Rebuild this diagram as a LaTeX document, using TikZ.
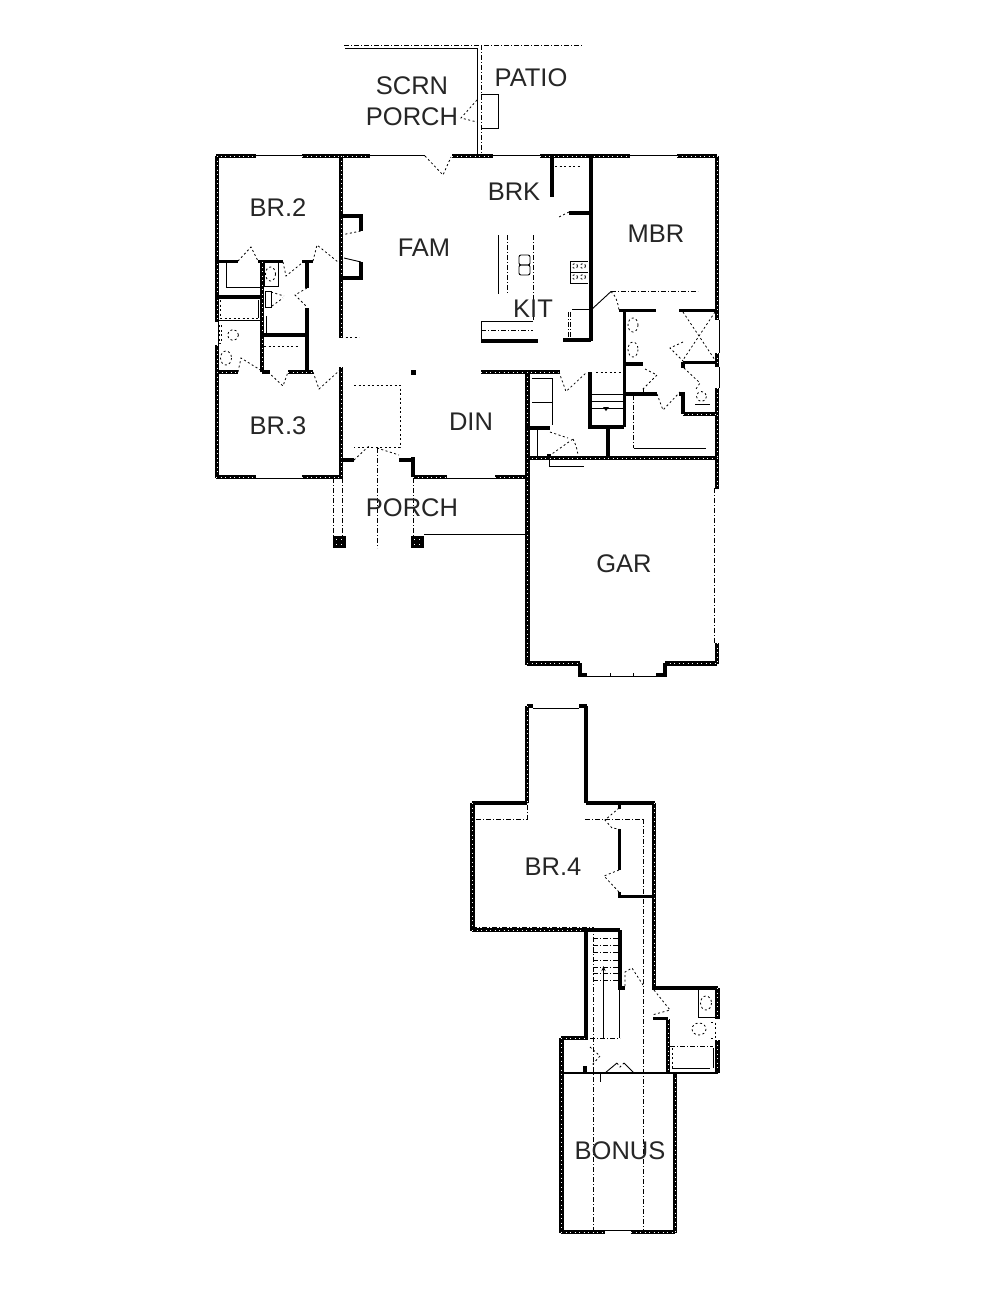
\documentclass[tikz,border=0pt]{standalone}
\usepackage{fontspec}
\usetikzlibrary{arrows.meta}
\setmainfont{Liberation Sans}
\tikzset{
 hw/.style={line width=4.6pt,draw=black,line cap=butt,postaction={draw=white,line width=0.8pt,dash pattern=on 1pt off 3.5pt}},
 sw/.style={line width=3.2pt,draw=black},
 tn/.style={line width=0.9pt,draw=black},
 dd/.style={line width=0.8pt,draw=black,dash pattern=on 5pt off 2pt on 1pt off 2pt},
 ds/.style={line width=0.8pt,draw=black,dash pattern=on 2pt off 2.5pt},
 lbl/.style={font=\fontsize{25.5}{26}\selectfont,inner sep=0pt,text=black!85,yshift=-0.8pt}
}
\begin{document}
\begin{tikzpicture}[x=1pt,y=-1pt]
\useasboundingbox (0,0) rectangle (1000,1294);
\fill[white] (0,0) rectangle (1000,1294);
% ---- rear porch
\draw[dd] (344,45)--(583,45);
\draw[tn] (345,48)--(477.5,48)--(477.5,156);
\draw[dd] (481,45)--(481,156);
\draw[tn] (481,94)--(498,94)--(498,128)--(481,128);
\draw[ds] (477,100)--(461,118)--(477,122);
% ---- main outer walls
\draw[hw] (216,156)--(256,156) (302,156)--(370,156) (452,156)--(493,156) (540,156)--(630,156) (677,156)--(717,156);
\draw[tn] (256,155)--(302,155) (370,155)--(425,155) (493,155)--(540,155) (630,155)--(677,155);
\draw[ds] (425,156)--(443,175)--(451,157);
\draw[hw] (217,156)--(217,322) (217,345)--(217,478);
\draw[tn] (218,322)--(218,345);
\draw[hw] (216,477)--(256,477) (302,477)--(342,477);
\draw[tn] (256,478)--(302,478);
\draw[hw] (341,156)--(341,338) (341,367)--(341,478);
\draw[ds] (341,337)--(359,337);
\draw[hw] (717,156)--(717,320) (717,353)--(717,367) (717,388)--(717,458);
\draw[tn] (719,320)--(719,353) (719,367)--(719,388);
% ---- family room closets
\draw[sw] (341,216)--(361,216)--(361,231);
\draw[ds] (341,235)--(361,231);
\draw[sw] (341,278)--(361,278)--(361,262);
\draw[tn] (344,258)--(361,262);
% ---- bedroom 2 / baths
\draw[sw] (217,261.5)--(238,261.5) (258,261.5)--(283,261.5) (302,261.5)--(313,261.5);
\draw[ds] (238,261)--(251,247)--(258,261);
\draw[ds] (313,261)--(317,245)--(338,262);
\draw[ds] (283,262)--(286,276)--(302,263);
\draw[tn] (226.5,262)--(226.5,287)--(262,287);
\draw[hw] (262,262)--(262,372);
\draw[sw] (217,297)--(262,297);
\draw[tn] (217,320.5)--(262,320.5) (258,300)--(258,318);
\draw[ds] (220,300)--(220,318)--(258,318);
\draw[tn] (264,262)--(264,286)--(278,286)--(278,262);
\draw[ds] (270.5,274) ellipse (5 and 7);
\draw[tn] (265,291) rectangle (271,307);
\draw[ds] (271,292)--(284,296);
\draw[ds] (272,306)--(283,298);
\draw[sw] (307,262)--(307,288) (307,308)--(307,372);
\draw[ds] (307,288)--(295,295)--(307,307);
\draw[tn] (266,316)--(266,333)--(305,333);
\draw[sw] (262,335)--(307,335);
\draw[ds] (264,346)--(298,346);
\draw[hw] (217,372)--(238,372);
\draw[sw] (262,372)--(270,372);
\draw[hw] (288,372)--(313,372);
\draw[ds] (238,372)--(241,358)--(262,371);
\draw[ds] (268,372)--(283,386)--(288,372);
\draw[ds] (313,372)--(319,389)--(340,370);
\draw[ds] (233,335) circle (5.5);
\draw[ds] (219,325) rectangle (221,343);
\draw[ds] (226,358) ellipse (5.5 and 7);
% ---- foyer, dining
\draw[sw] (341,460)--(354,460) (399,460)--(413,460);
\draw[sw] (413,457)--(413,477);
\draw[hw] (413,477)--(447,477) (495,477)--(527,477);
\draw[tn] (447,478)--(495,478);
\draw[ds] (354,385)--(400,385)--(400,447)--(354,447);
\draw[ds] (354,460)--(370,445) (377,448)--(399,455);
\draw[dd] (377,448)--(377,548);
\fill (411,369.5) rectangle (416,375);
% ---- front porch
\draw[dd] (333.5,478)--(333.5,536) (342,478)--(342,536);
\draw[dd] (413.5,478)--(413.5,536);
\draw[tn] (424,534)--(527,534);
\fill (333,536) rectangle (346,548);
\fill (411,536) rectangle (424,548);
\foreach \px in {336,341,414,419} {\fill[white] (\px,539) rectangle +(1,1); \fill[white] (\px,544) rectangle +(1,1);}
% ---- kitchen
\draw[tn] (481,341)--(481,321.5)--(533,321.5);
\draw[dd] (481,330)--(533,330);
\draw[sw] (481,341)--(538,341);
\draw[hw] (481,372)--(560,372);
\draw[hw] (527.5,372)--(527.5,458);
\draw[tn] (498.5,235)--(498.5,294);
\draw[dd] (507,235)--(507,294);
\draw[dd] (533,235)--(533,321);
\draw[tn,rounded corners=2pt] (519,255) rectangle (530,265);
\draw[tn,rounded corners=2pt] (519,265) rectangle (530,275);
\draw[sw] (552,156)--(552,197);
\draw[ds] (555,166)--(580,166);
\draw[sw] (591,156)--(591,341);
\draw[sw] (569,213)--(591,213);
\draw[ds] (569,212)--(557,218);
\draw[tn] (570,261.5)--(588,261.5) (570,261.5)--(570,283)--(588,283) (570,272)--(588,272);
\draw[ds] (575,266) circle (2.5) (583,266) circle (2.5) (575,277) circle (2.5) (583,277) circle (2.5);
\draw[tn] (572,309.5)--(591,309.5);
\draw[dd] (568,312)--(568,340) (570.5,312)--(570.5,340);
\draw[sw] (563,340)--(591,340);
% ---- master
\draw[tn] (591,310)--(611,291.5);
\draw[ds] (611,291.5)..controls (616,296) and (618,303)..(619,310);
\draw[dd] (611,291.5)--(698,291.5);
\draw[sw] (619,310.5)--(656,310.5) (679,310.5)--(717,310.5);
\draw[sw] (624.5,310)--(624.5,427);
\draw[ds] (633,325) ellipse (5 and 7) (633,349.5) ellipse (5 and 7.5);
\draw[ds] (683,312)--(715,360) (715,312)--(683,360);
\draw[sw] (683,362.5)--(717,362.5);
\draw[sw] (683,362)--(683,368);
\draw[ds] (683,342)--(670,348)--(683,361);
\draw[sw] (624,364)--(643,364);
\draw[ds] (645,369)--(657,375)--(642,390);
\draw[sw] (624,394)--(657,394) (679,394)--(683,394);
\draw[tn] (643,389)--(643,394);
\draw[ds] (657,394)--(663,410)--(680,392);
\draw[sw] (683,392)--(683,414);
\draw[hw] (683,414)--(717,414);
\draw[ds] (684,368)--(700,383)--(696,389);
\draw[ds] (701.5,396.5) circle (5);
\draw[tn] (695,404)--(710,404);
\draw[dd] (633.5,395)--(633.5,448);
\draw[tn] (633.5,448)--(706,448);
% ---- stair & laundry
\draw[sw] (590,372)--(590,427)--(624,427);
\draw[sw] (608,427)--(608,457);
\draw[tn] (590,394.5)--(624,394.5) (590,401)--(624,401) (590,408)--(624,408);
\draw[ds] (596,372)--(622,372);
\fill (603,407)--(609,407)--(606,411)--cycle;
\draw[ds] (559,372)--(566,391.5)--(587,372);
\draw[tn] (532,378)--(552,378)--(552,425) (532,402)--(552,402);
\draw[sw] (527,428)--(550,428);
\draw[tn] (537.5,430)--(537.5,457);
\draw[ds] (549,456)--(573,439) (550,432)--(568,438);
\draw[ds] (573,439)..controls (576,445) and (578,451)..(578,458);
\fill (547,454) rectangle (551,458);
\draw[tn] (549,458)--(549,466.5)--(584,466.5);
% ---- garage
\draw[hw] (527,458)--(717,458);
\draw[hw] (527.5,458)--(527.5,665);
\draw[hw] (717,458)--(717,489) (717,643)--(717,664);
\draw[dd] (714,488)--(714,643);
\draw[hw] (527,663.5)--(580,663.5) (665,663.5)--(717,663.5);
\draw[sw] (580,663)--(580,675)--(587,675) (656,675)--(665,675)--(665,663);
\draw[tn] (587,676)--(656,676) (610,673)--(610,676) (633,673)--(633,676);
% ---- upper floor
\draw[sw] (527,706)--(533,706) (579,706)--(587,706);
\draw[tn] (533,708)--(579,708);
\draw[hw] (527,706)--(527,803);
\draw[sw] (586,706)--(586,803);
\draw[sw] (472,803)--(527,803) (586,803)--(655,803);
\draw[hw] (472.5,803)--(472.5,931);
\draw[hw] (472,930)--(586,930);
\draw[sw] (586,930)--(620,930);
\draw[sw] (586,930)--(586,1040);
\draw[sw] (620,930)--(620,988)--(625,988);
\draw[hw] (654,803)--(654,988);
\draw[sw] (652,988)--(718,988);
\draw[hw] (717.5,988)--(717.5,1019) (717.5,1040)--(717.5,1073);
\draw[hw] (561.5,1038)--(561.5,1233) (675,1073)--(675,1233);
\draw[hw] (561,1038)--(586,1038);
\draw[sw] (585,1066)--(585,1073);
\draw[line width=1.8pt] (561,1073)--(718,1073);
\draw[hw] (561,1232)--(605,1232) (631,1232)--(675,1232);
\draw[tn] (605,1230.5)--(631,1230.5);
\draw[hw] (668,1019)--(668,1073);
\draw[sw] (653,1018.5)--(668,1018.5);
\draw[dd] (476,819)--(527,819)--(527,803);
\draw[dd] (585,819)--(643,819);
\draw[dd] (643,819)--(643,1232);
\draw[dd] (593,927)--(593,1232);
\draw[dd] (472,927)--(593,927);
\draw[sw] (619.5,805)--(619.5,809) (619.5,829)--(619.5,870) (619.5,892)--(619.5,896.5)--(654,896.5);
\draw[ds] (619,808)--(605,820)--(612,828)--(619,829);
\draw[ds] (619,870)--(604,876)--(619,892);
\foreach \ty in {938,945,952,960,967,973,980} {\draw[dd] (593,\ty)--(619,\ty);}
\draw[tn,-{Stealth[length=5pt,width=4pt]}] (603.5,1038)--(603.5,966);
\draw[tn] (619.5,988)--(619.5,1038);
\draw[dd] (590,1038)--(620,1038);
\draw[ds] (625,986)--(625,972)--(632,968)--(643,985);
\draw[ds] (654,990)--(670,1010)--(652,1015);
\draw[tn] (698,988)--(698,1017)--(717,1017);
\draw[ds] (706,1003) ellipse (5.5 and 7);
\draw[ds] (699,1029) ellipse (7 and 6);
\draw[ds] (711,1022)--(715,1022)--(715,1038)--(711,1038);
\draw[dd] (670,1046)--(713,1046);
\draw[ds] (672,1048)--(672,1068);
\draw[tn] (672,1068)--(710,1068) (713,1048)--(713,1068);
\draw[ds] (590,1047)--(600,1056)--(592,1065);
\draw[tn] (605,1073)--(617,1063);
\draw[ds] (617,1063)--(620,1067)--(624,1063);
\draw[tn] (624,1063)--(634,1073);
\draw[tn] (600,1073)--(600,1082);
% ---- labels
\node[lbl] (scrn) at (412,85) {SCRN};
\node[lbl] (sporch) at (412,116) {PORCH};
\node[lbl] (patio) at (531,77) {PATIO};
\node[lbl] (br2) at (278,207) {BR.2};
\node[lbl] (fam) at (424,247) {FAM};
\node[lbl] (brk) at (514,191) {BRK};
\node[lbl] (mbr) at (656,233) {MBR};
\node[lbl] (kit) at (533,308) {KIT};
\node[lbl] (br3) at (278,425) {BR.3};
\node[lbl] (din) at (471,421) {DIN};
\node[lbl] (porch) at (412,507) {PORCH};
\node[lbl] (gar) at (624,563) {GAR};
\node[lbl] (br4) at (553,866) {BR.4};
\node[lbl] (bonus) at (620,1150) {BONUS};
\end{tikzpicture}
\end{document}
